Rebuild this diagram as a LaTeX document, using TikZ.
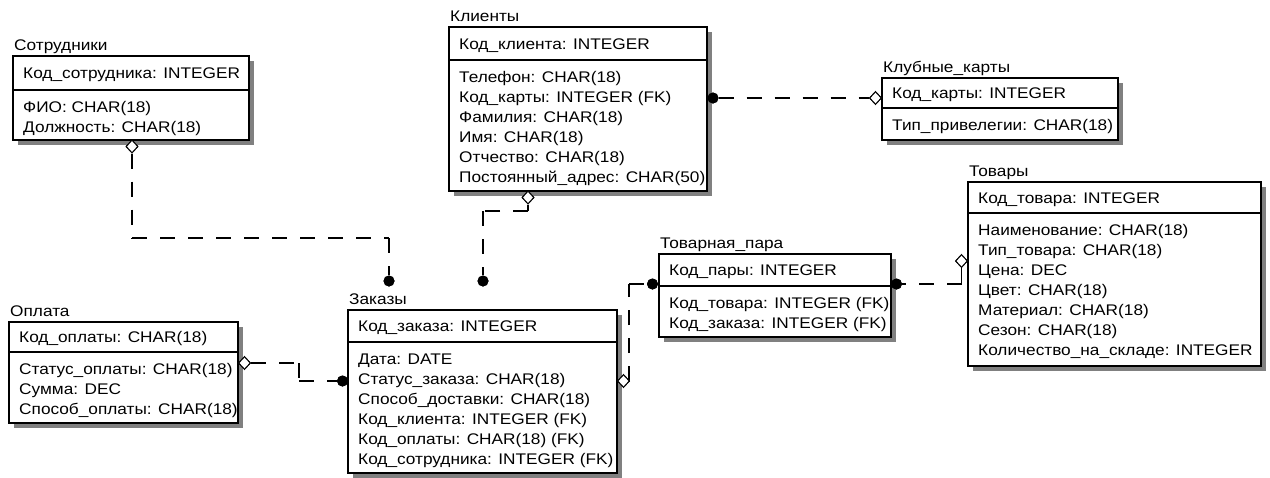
\documentclass[tikz,border=0pt]{standalone}
\usepackage{fontspec}
\setmainfont{Liberation Sans}[FakeStretch=1.12]
\usetikzlibrary{shapes.geometric,fit}

\tikzset{
  attr/.style={font=\fontsize{15.4}{20}\selectfont, inner sep=0, anchor=base west, text=black},
  erbox/.style={draw, line width=1.1pt, fill=white, inner sep=0},
  ershadow/.style={fill=black!50},
  erline/.style={line width=1.1pt},
  rel/.style={line width=1.1pt, dash pattern=on 15pt off 13pt},
  one/.style={diamond, draw, line width=1pt, fill=white, inner sep=0,
              minimum width=12pt, minimum height=13pt},
  many/.style={circle, fill=black, inner sep=0, minimum size=11pt},
}

% #1 name, #2 title, #3 left, #4 top, #5 right, #6 key divider, #7 bottom,
% #8 primary key, #9 other attributes
\newcommand\erentity[9]{%
  \fill[ershadow] (#3+5,#4+5) rectangle (#5+5,#7+5);
  \coordinate (#1-nw) at (#3,#4);
  \coordinate (#1-se) at (#5,#7);
  \node[erbox, fit=(#1-nw)(#1-se)] (#1) {};
  \draw[erline] (#3,#6) -- (#5,#6);
  \node[attr] (#1-title) at (#3+1,#4-6) {#2};
  \node[attr] (#1-pk) at (#3+10,{(#4+#6)/2+5.5}) {#8};
  \foreach \attrtext [count=\i] in {#9}
    {\node[attr] (#1-a\i) at (#3+10,#6+2+20*\i) {\attrtext};}
}

\begin{document}
\begin{tikzpicture}[x=1pt,y=-1pt]
\useasboundingbox (0,0) rectangle (1270,477);

\erentity{emp}{Сотрудники}{13}{56}{249}{90}{140}{Код\_сотрудника: INTEGER}
  {ФИО: CHAR(18), Должность: CHAR(18)}
\erentity{cli}{Клиенты}{449}{27}{707}{60}{191}{Код\_клиента: INTEGER}
  {Телефон: CHAR(18), Код\_карты: INTEGER (FK), Фамилия: CHAR(18),
   Имя: CHAR(18), Отчество: CHAR(18), Постоянный\_адрес: CHAR(50)}
\erentity{card}{Клубные\_карты}{882}{78}{1118}{108}{140}{Код\_карты: INTEGER}
  {Тип\_привелегии: CHAR(18)}
\erentity{goods}{Товары}{968}{182}{1261}{213}{366}{Код\_товара: INTEGER}
  {Наименование: CHAR(18), Тип\_товара: CHAR(18), Цена: DEC, Цвет: CHAR(18),
   Материал: CHAR(18), Сезон: CHAR(18), Количество\_на\_складе: INTEGER}
\erentity{pair}{Товарная\_пара}{659}{254}{891}{286}{337}{Код\_пары: INTEGER}
  {Код\_товара: INTEGER (FK), Код\_заказа: INTEGER (FK)}
\erentity{pay}{Оплата}{9}{322}{238}{352}{423}{Код\_оплаты: CHAR(18)}
  {Статус\_оплаты: CHAR(18), Сумма: DEC, Способ\_оплаты: CHAR(18)}
\erentity{ord}{Заказы}{348}{310}{617}{342}{473}{Код\_заказа: INTEGER}
  {Дата: DATE, Статус\_заказа: CHAR(18), Способ\_доставки: CHAR(18),
   Код\_клиента: INTEGER (FK), Код\_оплаты: CHAR(18) (FK),
   Код\_сотрудника: INTEGER (FK)}

% relationship ends: diamond on the parent side, dot on the child side
\node[one]  (d1) at (132,146.5) {};
\node[many] (c1) at (389,281) {};
\node[one]  (d2) at (528,197.5) {};
\node[many] (c2) at (483,281) {};
\node[many] (c3) at (713,98) {};
\node[one]  (d3) at (875.5,98) {};
\node[one]  (d4) at (244.5,363) {};
\node[many] (c4) at (342.5,381) {};
\node[one]  (d5) at (623.5,381) {};
\node[many] (c5) at (652.5,284) {};
\node[one]  (d6) at (961.5,261) {};
\node[many] (c6) at (896.5,284) {};

% bend points
\coordinate (k1a) at (132,238);
\coordinate (k1b) at (389,238);
\coordinate (k2a) at (528,211);
\coordinate (k2b) at (483,211);
\coordinate (k4a) at (299,363);
\coordinate (k4b) at (299,381);
\coordinate (k5a) at (629,381);
\coordinate (k5b) at (629,284);
\coordinate (k6) at (961.5,284);

% Сотрудники -- Заказы
\draw[rel] (d1.south) -- (k1a);
\draw[rel] (k1a) -- (k1b);
\draw[rel] (k1b) -- (c1);
% Клиенты -- Заказы
\draw[rel] (d2.south) -- (k2a);
\draw[rel] (k2a) -- (k2b);
\draw[rel] (k2b) -- (c2);
% Клиенты -- Клубные_карты
\draw[rel] (c3) -- (d3.west);
% Оплата -- Заказы
\draw[rel] (d4.east) -- (k4a);
\draw[rel] (k4a) -- (k4b);
\draw[rel] (k4b) -- (c4);
% Заказы -- Товарная_пара
\draw[rel] (d5.east) -- (k5a);
\draw[rel] (k5a) -- (k5b);
\draw[rel] (k5b) -- (c5);
% Товары -- Товарная_пара
\draw[rel] (d6.south) -- (k6);
\draw[rel] (k6) -- (c6);

% keep the end marks above the lines
\foreach \n in {d1,d2,d3,d4,d5,d6} {\node[one] at (\n) {};}
\foreach \n in {c1,c2,c3,c4,c5,c6} {\node[many] at (\n) {};}
\end{tikzpicture}
\end{document}
